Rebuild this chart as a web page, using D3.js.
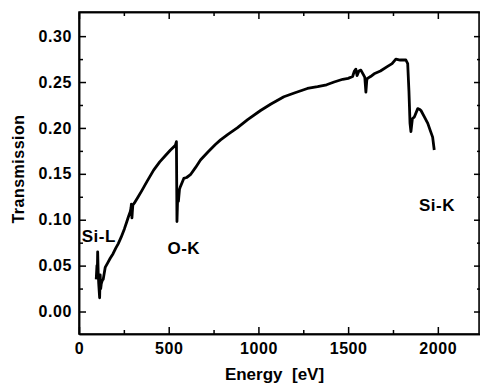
<!DOCTYPE html>
<html>
<head>
<meta charset="utf-8">
<script src="https://cdn.jsdelivr.net/npm/d3@7"></script>
<style>
  body { margin: 0; background: #fff; }
  svg { display: block; }
  text { font-family: "Liberation Sans", Arial, sans-serif; fill: #000; }
  .axis path, .axis line { stroke: #000; stroke-width: 1.5; }
  .axis text { font-size: 16px; font-weight: bold; }
</style>
</head>
<body>
<div id="chart"></div>
<script>
// Transmission curve
var energy = [96,100,102,104,107,110,115,118,121,124,130,135,146,160,174,190,205,219,235,253,
  265,275,286,290,292,295,297,300,308,330,351,380,416,450,482,510,537,543,546,550,
  554,560,565,584,600,621,650,677,720,760,789,830,882,940,1012,1070,1142,1200,1273,1330,
  1380,1422,1470,1500,1525,1535,1543,1550,1560,1571,1585,1593,1599,1604,1608,1625,1645,1680,1720,1745,
  1766,1790,1822,1832,1839,1845,1850,1858,1869,1888,1900,1906,1925,1944,1960,1971,1980]
var transmission = [0.035,0.050,0.040,0.065,0.042,0.030,0.015,0.040,0.025,0.030,0.034,0.035,0.048,0.053,0.058,0.063,0.069,0.074,0.081,0.090,
  0.097,0.103,0.109,0.113,0.117,0.102,0.108,0.116,0.118,0.125,0.132,0.142,0.154,0.163,0.170,0.176,0.181,0.185,0.098,0.125,
  0.120,0.133,0.136,0.145,0.146,0.149,0.157,0.165,0.174,0.182,0.187,0.193,0.200,0.209,0.219,0.226,0.234,0.238,0.243,0.245,
  0.247,0.250,0.253,0.254,0.256,0.262,0.264,0.257,0.262,0.263,0.258,0.255,0.239,0.252,0.254,0.256,0.259,0.262,0.267,0.270,
  0.275,0.274,0.274,0.270,0.240,0.205,0.196,0.210,0.212,0.221,0.220,0.219,0.212,0.205,0.196,0.190,0.176]

var xTicks = [0, 500, 1000, 1500, 2000]
var xMinor = [250, 750, 1250, 1750]
var yTicks = [0, 0.05, 0.10, 0.15, 0.20, 0.25, 0.30]
var yMinor = [0.025, 0.075, 0.125, 0.175, 0.225, 0.275]

var labels = [
  {text: 'Si-L', e: 15, t: 0.076},
  {text: 'O-K', e: 493, t: 0.063},
  {text: 'Si-K', e: 1895, t: 0.110}
]

var data = energy.map((e, i) => ({e: e, t: transmission[i]}))

var W = 480, H = 385
var margin = {top: 12, right: 0, bottom: 51, left: 79}
var width = W - margin.left - margin.right
var height = H - margin.top - margin.bottom

var xScale = d3.scaleLinear().domain([0, 2235]).range([0, width])
var yScale = d3.scaleLinear().domain([-0.0245, 0.3263]).range([height, 0])

var svg = d3.select('#chart').append('svg')
    .attr('width', W)
    .attr('height', H)

var g = svg.append('g')
    .attr('transform', 'translate(' + margin.left + ',' + margin.top + ')')

// inward ticks on all four sides
g.append('g').attr('class', 'axis')
    .attr('transform', 'translate(0,' + height + ')')
    .call(d3.axisBottom(xScale).tickValues(xTicks).tickSize(-7).tickPadding(9)
      .tickFormat(d3.format('d')).tickSizeOuter(0))
g.append('g').attr('class', 'axis')
    .attr('transform', 'translate(0,' + height + ')')
    .call(d3.axisBottom(xScale).tickValues(xMinor).tickSize(-4).tickFormat('').tickSizeOuter(0))
g.append('g').attr('class', 'axis')
    .call(d3.axisTop(xScale).tickValues(xTicks).tickSize(-7).tickFormat('').tickSizeOuter(0))
g.append('g').attr('class', 'axis')
    .call(d3.axisTop(xScale).tickValues(xMinor).tickSize(-4).tickFormat('').tickSizeOuter(0))

g.append('g').attr('class', 'axis')
    .call(d3.axisLeft(yScale).tickValues(yTicks).tickSize(-7).tickPadding(7)
      .tickFormat(d3.format('.2f')).tickSizeOuter(0))
g.append('g').attr('class', 'axis')
    .call(d3.axisLeft(yScale).tickValues(yMinor).tickSize(-4).tickFormat('').tickSizeOuter(0))
g.append('g').attr('class', 'axis')
    .attr('transform', 'translate(' + width + ',0)')
    .call(d3.axisRight(yScale).tickValues(yTicks).tickSize(-6).tickFormat('').tickSizeOuter(0))
g.append('g').attr('class', 'axis')
    .attr('transform', 'translate(' + width + ',0)')
    .call(d3.axisRight(yScale).tickValues(yMinor).tickSize(-3).tickFormat('').tickSizeOuter(0))

g.selectAll('.axis text').attr('letter-spacing', 0.6)

// frame
g.append('rect')
    .attr('width', width - 1)
    .attr('height', height)
    .attr('fill', 'none')
    .attr('stroke', '#000')
    .attr('stroke-width', 1.5)

var line = d3.line()
    .x(d => xScale(d.e))
    .y(d => yScale(d.t))

g.append('path')
    .datum(data)
    .attr('d', line)
    .attr('fill', 'none')
    .attr('stroke', '#000')
    .attr('stroke-width', 2.8)
    .attr('stroke-linejoin', 'round')

g.selectAll('.edge-label')
    .data(labels)
    .enter()
    .append('text')
    .attr('class', 'edge-label')
    .attr('x', d => xScale(d.e))
    .attr('y', d => yScale(d.t))
    .style('font-size', '17px')
    .style('font-weight', 'bold')
    .attr('letter-spacing', 0.5)
    .text(d => d.text)

// axis titles
svg.append('text')
    .attr('text-anchor', 'middle')
    .attr('x', margin.left + width / 2 - 5)
    .attr('y', 380)
    .attr('xml:space', 'preserve')
    .style('font-size', '17px')
    .style('font-weight', 'bold')
    .text('Energy  [eV]')

svg.append('text')
    .attr('text-anchor', 'middle')
    .attr('transform', 'translate(24,' + 169 + ') rotate(-90)')
    .style('font-size', '16px')
    .style('font-weight', 'bold')
    .attr('letter-spacing', 0.5)
    .text('Transmission')
</script>
</body>
</html>
